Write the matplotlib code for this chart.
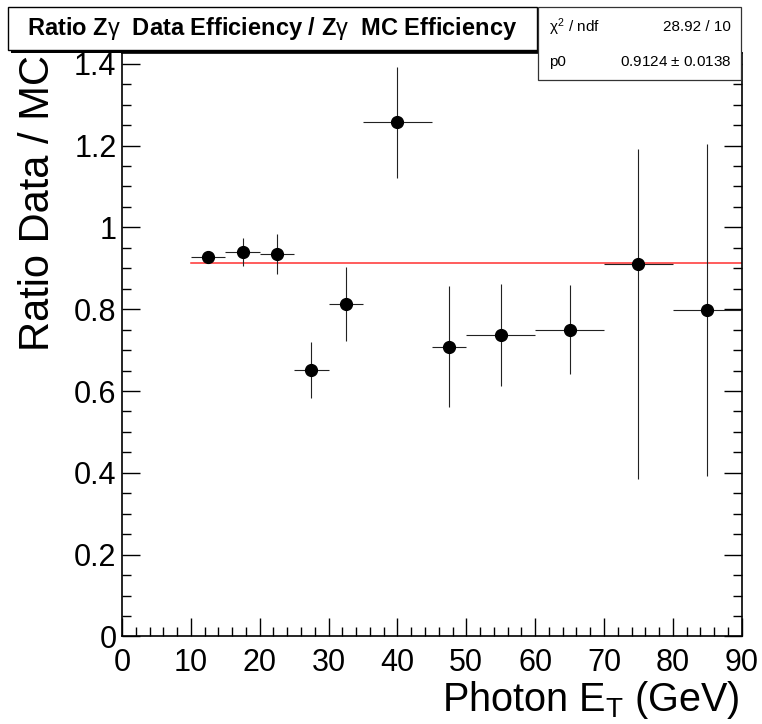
import numpy as np
import matplotlib.pyplot as plt
from matplotlib.patches import Rectangle
from matplotlib.ticker import MultipleLocator

plt.rcParams['font.family'] = ['Liberation Sans', 'DejaVu Sans']
plt.rcParams['mathtext.fontset'] = 'custom'
plt.rcParams['mathtext.rm'] = 'Liberation Sans'
plt.rcParams['mathtext.it'] = 'Liberation Sans'

# bins in photon E_T (GeV)
bin_lo = [10, 15, 20, 25, 30, 35, 45, 50, 60, 70, 80]
bin_hi = [15, 20, 25, 30, 35, 45, 50, 60, 70, 80, 90]
ratio = [0.927, 0.940, 0.935, 0.652, 0.813, 1.257, 0.708, 0.737, 0.750, 0.911, 0.798]
err_up = [0.012, 0.035, 0.050, 0.068, 0.090, 0.135, 0.148, 0.125, 0.108, 0.280, 0.405]
err_dn = [0.012, 0.035, 0.050, 0.070, 0.090, 0.137, 0.148, 0.125, 0.108, 0.525, 0.405]

fit_p0 = 0.9124
fit_range = [10, 90]

bin_lo = np.array(bin_lo)
bin_hi = np.array(bin_hi)
x = 0.5 * (bin_lo + bin_hi)
xerr = [x - bin_lo, bin_hi - x]

fig = plt.figure(figsize=(7.62, 7.24), dpi=100)
ax = fig.add_axes([0.1601, 0.1209, 0.8133, 0.8063])

ax.errorbar(x, ratio, xerr=xerr, yerr=[err_dn, err_up], fmt='o', color='black',
            ecolor='#222222', elinewidth=0.8, capsize=0, markersize=8.5, zorder=3)
ax.plot(fit_range, [fit_p0, fit_p0], color='#ff3030', lw=1.1, zorder=2)

ax.set_xlim(0, 90)
ax.set_ylim(0, 1.427)
ax.xaxis.set_major_locator(MultipleLocator(10))
ax.xaxis.set_minor_locator(MultipleLocator(2))
ax.yaxis.set_major_locator(MultipleLocator(0.2))
ax.yaxis.set_minor_locator(MultipleLocator(0.05))
ax.set_yticks(np.arange(0, 1.41, 0.2))
ax.set_yticklabels(['0', '0.2', '0.4', '0.6', '0.8', '1', '1.2', '1.4'])
ax.tick_params(which='both', direction='in', top=False, right=True, labelsize=22, width=1)
ax.tick_params(which='major', length=13)
ax.tick_params(which='minor', length=6.5)
ax.tick_params(axis='x', pad=8)
ax.tick_params(axis='y', pad=4)
for s in ax.spines.values():
    s.set_linewidth(1.2)

fig.text(38 / 762, 1 - 55 / 724, 'Ratio Data / MC', rotation=90, ha='center', va='top', fontsize=30)
fig.text(740 / 762, 13 / 724, 'Photon E$_\\mathrm{T}$ (GeV)', ha='right', va='baseline', fontsize=28.5)

# title box with shadow
tx0, ty0, tw, th = 8 / 762, 1 - 50 / 724, 529 / 762, 43 / 724
fig.patches.append(Rectangle((tx0 + 3 / 762, ty0 - 3 / 724), tw, th, transform=fig.transFigure,
                             facecolor='black', edgecolor='black', lw=0, zorder=5))
fig.patches.append(Rectangle((tx0, ty0), tw, th, transform=fig.transFigure,
                             facecolor='white', edgecolor='black', lw=1, zorder=6))
fig.text(tx0 + tw / 2, 1 - 29 / 724, 'Ratio Z$\\gamma$  Data Efficiency / Z$\\gamma$  MC Efficiency',
         ha='center', va='center', fontsize=17, fontweight='bold', zorder=7)

# stats box
sx0, sy0, sw, sh = 538 / 762, 1 - 80 / 724, 203 / 762, 73 / 724
fig.patches.append(Rectangle((sx0, sy0), sw, sh, transform=fig.transFigure,
                             facecolor='white', edgecolor='#333333', lw=0.9, zorder=8))
fig.text(549 / 762, 1 - 27 / 724, '$\\chi^2$ / ndf', ha='left', va='center', fontsize=11, zorder=9)
fig.text(731 / 762, 1 - 27 / 724, '28.92 / 10', ha='right', va='center', fontsize=11, zorder=9)
fig.text(549 / 762, 1 - 62 / 724, 'p0', ha='left', va='center', fontsize=11, zorder=9)
fig.text(731 / 762, 1 - 62 / 724, '0.9124 $\\pm$ 0.0138', ha='right', va='center', fontsize=11, zorder=9)

fig.savefig('out.png', dpi=100)
